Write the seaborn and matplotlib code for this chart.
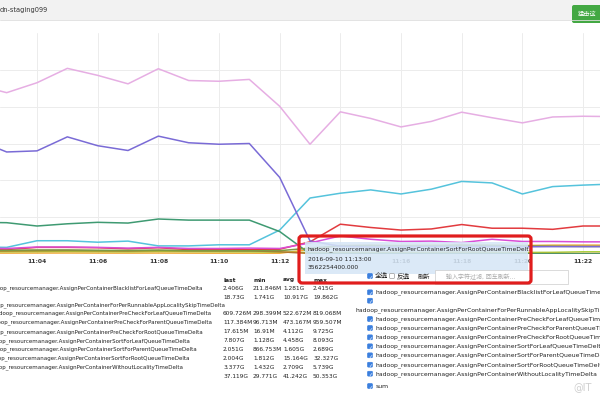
import numpy as np
import pandas as pd
import matplotlib
matplotlib.use("Agg")
import matplotlib.pyplot as plt
import seaborn as sns
from matplotlib.patches import Rectangle, FancyBboxPatch

# ---------------- data ----------------
minutes = list(range(2, 24))  # 11:02 .. 11:23
tick_minutes = [4, 6, 8, 10, 12, 14, 16, 18, 20, 22]
tick_labels = ["11:04", "11:06", "11:08", "11:10", "11:12",
               "", "11:16", "11:18", "11:20", "11:22"]  # 11:14 hidden under the tooltip

series_names = [
    "hadoop_resourcemanager.AssignPerContainerBlacklistForLeafQueueTimeDelta",
    "hadoop_resourcemanager.AssignPerContainerForPerRunnableAppLocalitySkipTimeDelta",
    "hadoop_resourcemanager.AssignPerContainerPreCheckForLeafQueueTimeDelta",
    "hadoop_resourcemanager.AssignPerContainerPreCheckForParentQueueTimeDelta",
    "hadoop_resourcemanager.AssignPerContainerPreCheckForRootQueueTimeDelta",
    "hadoop_resourcemanager.AssignPerContainerSortForLeafQueueTimeDelta",
    "hadoop_resourcemanager.AssignPerContainerSortForParentQueueTimeDelta",
    "hadoop_resourcemanager.AssignPerContainerSortForRootQueueTimeDelta",
    "hadoop_resourcemanager.AssignPerContainerWithoutLocalityTimeDelta",
    "sum",
]

# values in G
blacklist = [0.25, 0.24, 0.26, 0.27, 0.25, 0.24, 0.26, 0.23, 0.22, 0.22, 0.21, 1.2,
             2.3, 2.35, 2.3, 2.38, 2.41, 2.35, 2.3, 2.4, 2.41, 2.4]
skip = [1.9, 1.8, 3.6, 3.6, 3.2, 3.5, 2.2, 2.2, 2.5, 2.5, 6.5, 15.2,
        16.5, 17.4, 16.3, 17.6, 19.7, 19.3, 16.3, 18.3, 18.7, 19.0]
precheck_leaf = [0.6, 0.62, 0.65, 0.7, 0.65, 0.6, 0.7, 0.65, 0.62, 0.6, 0.5, 0.4,
                 0.45, 0.42, 0.4, 0.45, 0.5, 0.45, 0.42, 0.45, 0.6, 0.6]
precheck_parent = [0.85, 0.85, 0.9, 0.95, 0.9, 0.85, 0.95, 0.9, 0.88, 0.88, 0.6, 0.15,
                   0.11, 0.1, 0.1, 0.11, 0.12, 0.11, 0.1, 0.11, 0.12, 0.12]
precheck_root = [8.6, 8.5, 7.6, 8.2, 8.6, 8.4, 9.5, 9.2, 9.2, 9.2, 6.1, 0.05,
                 0.02, 0.02, 0.02, 0.02, 0.02, 0.02, 0.02, 0.02, 0.02, 0.02]
sort_leaf = [1.2, 1.2, 1.8, 1.8, 1.7, 1.4, 1.7, 1.2, 1.2, 1.2, 1.3, 3.3,
             8.09, 7.2, 6.5, 6.8, 8.0, 7.0, 7.0, 6.7, 7.6, 7.6]
sort_parent = [1.0, 1.0, 1.1, 1.1, 1.0, 0.95, 1.05, 0.9, 0.9, 0.87, 0.9, 1.6,
               2.2, 2.3, 2.2, 2.2, 2.4, 2.3, 2.2, 2.1, 2.05, 2.05]
sort_root = [31.0, 27.7, 28.0, 31.8, 29.4, 28.1, 32.0, 30.2, 29.8, 30.0, 20.8, 3.56,
             2.1, 1.9, 1.85, 2.0, 1.9, 2.0, 1.95, 2.0, 2.0, 2.0]
without_locality = [1.6, 1.5, 1.9, 1.9, 1.8, 1.6, 1.8, 1.5, 1.5, 1.6, 1.5, 3.0,
                    4.9, 4.0, 3.4, 3.5, 3.1, 4.0, 3.4, 3.4, 3.3, 3.3]
total = [45.9, 43.8, 46.5, 50.4, 48.5, 46.2, 50.3, 47.1, 46.9, 47.4, 40.1, 29.8,
         38.6, 36.8, 34.5, 36.0, 38.5, 37.0, 35.6, 37.2, 37.4, 37.3]

stat_last = ["2.406G", "18.73G", "609.726M", "117.384M", "17.615M", "7.807G",
             "2.051G", "2.004G", "3.377G", "37.119G"]
stat_min = ["211.846M", "1.741G", "298.399M", "96.713M", "16.91M", "1.128G",
            "866.753M", "1.812G", "1.432G", "29.771G"]
stat_avg = ["1.281G", "10.917G", "522.672M", "473.167M", "4.112G", "4.458G",
            "1.605G", "15.164G", "2.709G", "41.242G"]
stat_max = ["2.415G", "19.862G", "819.068M", "959.507M", "9.725G", "8.093G",
            "2.689G", "32.327G", "5.739G", "50.353G"]

colors = ["#f2a93b", "#55c3dc", "#a9cf3c", "#b5742e", "#3f9a72",
          "#e23b3f", "#7d9a45", "#7a6bd6", "#d94ed6", "#e6aee3"]

all_values = [blacklist, skip, precheck_leaf, precheck_parent, precheck_root,
              sort_leaf, sort_parent, sort_root, without_locality, total]

rows = []
for name, vals in zip(series_names, all_values):
    for m, v in zip(minutes, vals):
        rows.append({"minute": m, "value": v, "series": name})
df = pd.DataFrame(rows)
palette = dict(zip(series_names, colors))

# ---------------- figure ----------------
sns.set_theme(style="white")
plt.rcParams["font.family"] = ["DejaVu Sans", "Noto Sans CJK SC"]

fig = plt.figure(figsize=(6, 4), dpi=100)
fig.patch.set_facecolor("white")

ax = fig.add_axes([0, 146 / 400, 1, 221 / 400])
sns.lineplot(data=df, x="minute", y="value", hue="series", hue_order=series_names,
             palette=palette, legend=False, linewidth=1.1, ax=ax)
ax.set_xlim(2.78, 22.56)
ax.set_ylim(0, 60)
ax.set_yticks([0, 10, 20, 30, 40, 50])
ax.set_yticklabels([])
ax.set_xticks(tick_minutes)
ax.set_xticklabels(tick_labels, fontsize=4.3, fontweight="bold", color="#333333")
ax.tick_params(axis="both", length=0)
ax.tick_params(axis="x", pad=3.5)
ax.grid(True, color="#ececec", linewidth=0.7)
ax.set_axisbelow(True)
for s in ax.spines.values():
    s.set_visible(False)
ax.set_xlabel("")
ax.set_ylabel("")

# overlay in pixel coordinates
ov = fig.add_axes([0, 0, 1, 1], zorder=5)
ov.set_xlim(0, 600)
ov.set_ylim(400, 0)
ov.axis("off")
ov.patch.set_alpha(0)

# header bar
ov.add_patch(Rectangle((0, 0), 600, 19.5, facecolor="#f2f2f2", edgecolor="none"))
ov.plot([0, 600], [19.5, 19.5], color="#dedede", lw=0.6)
ov.text(0, 10, "dn-staging099", fontsize=4.8, color="#333333", va="center", ha="left")
ov.add_patch(FancyBboxPatch((572, 5), 32, 18, boxstyle="round,pad=0,rounding_size=2",
                            facecolor="#43a843", edgecolor="none"))
ov.text(578, 14, "猛击这", fontsize=4.5, color="white", va="center", ha="left")

txt_c = "#222222"
fs = 4.2

# left statistics table
ov.text(223, 280, "last", fontsize=fs, fontweight="bold", color=txt_c, va="center")
ov.text(253, 280, "min", fontsize=fs, fontweight="bold", color=txt_c, va="center")
ov.text(283, 280, "avg", fontsize=fs, fontweight="bold", color=txt_c, va="center")
ov.text(313, 280, "max", fontsize=fs, fontweight="bold", color=txt_c, va="center")

row_y = [288.3, 297.3, 313.3, 322.3, 331.7, 340.7, 349.3, 358.3, 367.3, 376]
label_end = [203, 225, 212, 212, 203, 190, 197, 190, 183, None]
for i in range(10):
    y = row_y[i]
    if i == 1:
        ov.text(label_end[i], 305, series_names[i], fontsize=4.0, color=txt_c,
                va="center", ha="right")
    elif label_end[i] is not None:
        ov.text(label_end[i], y, series_names[i], fontsize=4.0, color=txt_c,
                va="center", ha="right")
    for x, col in zip([223, 253, 283, 313], [stat_last, stat_min, stat_avg, stat_max]):
        ov.text(x, y, col[i], fontsize=fs, color=txt_c, va="center", ha="left")


def checkbox(x, y, checked=True):
    ov.add_patch(FancyBboxPatch((x - 2.4, y - 2.4), 4.8, 4.8,
                                boxstyle="round,pad=0,rounding_size=0.8",
                                facecolor="#3b7fde" if checked else "white",
                                edgecolor="#3b7fde" if checked else "#999999", lw=0.5))
    if checked:
        ov.text(x, y + 0.3, "✓", color="white", fontsize=3.6, ha="center",
                va="center", fontweight="bold")


# right checkbox list
list_y = [292.3, 310, 319, 328, 337.3, 346.3, 355.3, 364.7, 373.7, 386]
for i in range(10):
    y = list_y[i]
    if i == 1:
        checkbox(370, 300.7)
        ov.text(355, y, series_names[i], fontsize=4.4, color=txt_c, va="center", ha="left")
    else:
        checkbox(370, y)
        ov.text(376, y, series_names[i], fontsize=4.4, color=txt_c, va="center", ha="left")

# tooltip (highlighted with red frame)
ov.add_patch(Rectangle((305, 242), 223, 32, facecolor="#d6e6f6", edgecolor="none",
                       alpha=0.88))
ov.text(308, 249.3, "hadoop_resourcemanager.AssignPerContainerSortForRootQueueTimeDelta",
        fontsize=4.3, color=txt_c, va="center", ha="left")
ov.text(308, 259.3, "2016-09-10 11:13:00", fontsize=4.3, color=txt_c, va="center")
ov.text(308, 267.5, "3562254400.000", fontsize=4.3, color=txt_c, va="center")

checkbox(370, 276)
ov.text(375, 276, "全选", fontsize=4.8, color=txt_c, va="center")
checkbox(392, 276, checked=False)
ov.text(397, 276, "反选", fontsize=4.8, color=txt_c, va="center")
ov.text(418, 277, "刷新", fontsize=4.5, color=txt_c, va="center")
ov.add_patch(Rectangle((435, 270), 133, 14, facecolor="white", edgecolor="#cccccc",
                       lw=0.5, zorder=1))
ov.text(446, 277, "输入字符过滤, 回车刷新...", fontsize=4.3, color="#aaaaaa",
        va="center", zorder=2)

ov.add_patch(FancyBboxPatch((299, 236), 232, 47, boxstyle="round,pad=0,rounding_size=3",
                            facecolor="none", edgecolor="#e01d1d", lw=2.3, zorder=6))

# watermark
ov.text(573, 387, "@IT", fontsize=7, color="#cfcfcf", va="center", ha="left")

fig.savefig("out.png", dpi=100, facecolor="white")
